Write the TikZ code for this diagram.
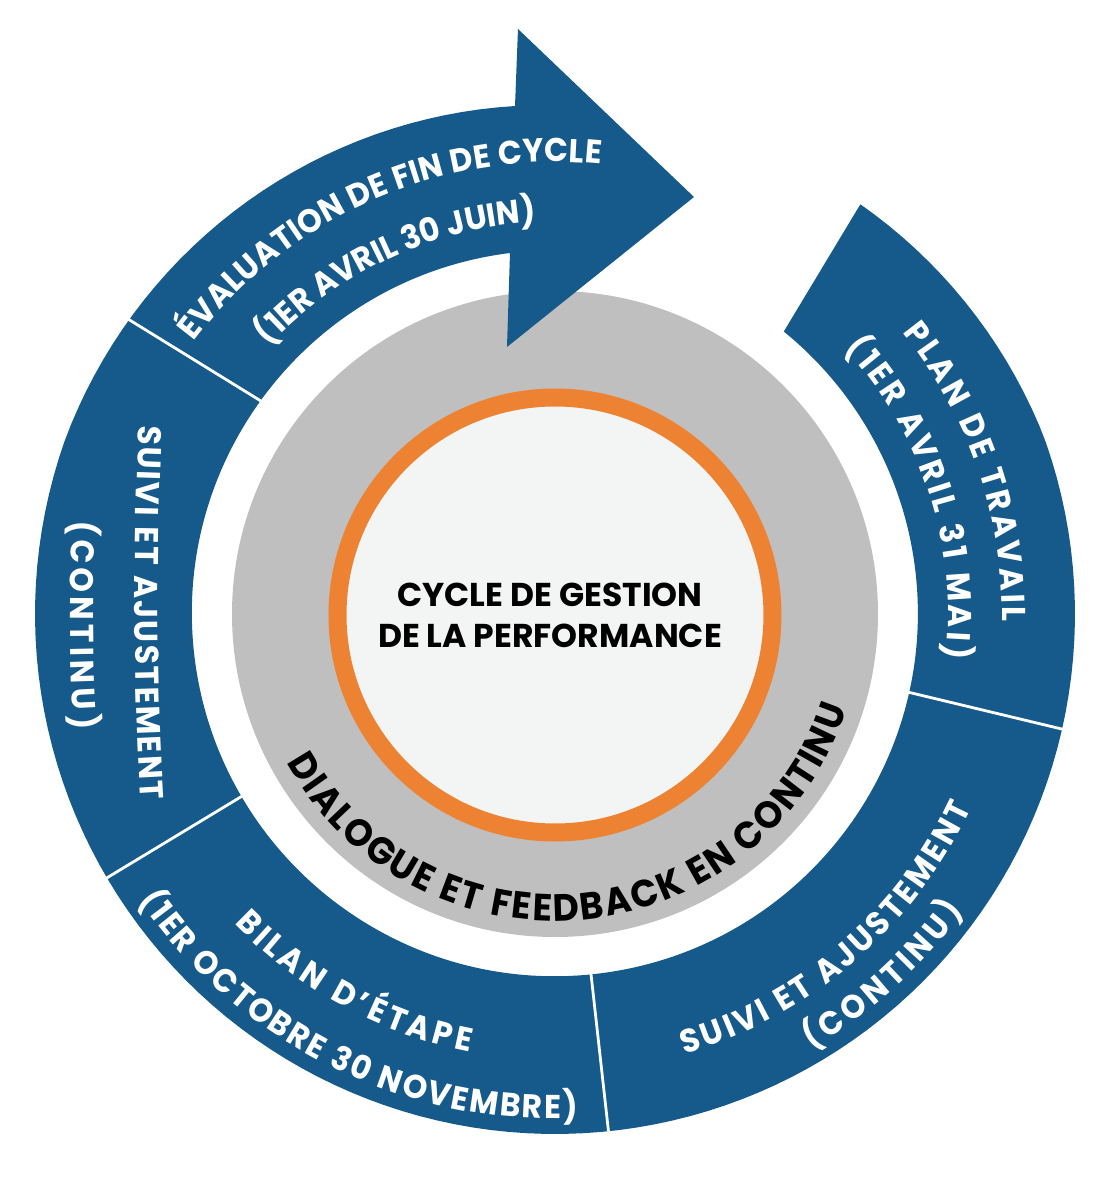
\documentclass[tikz,border=0pt]{standalone}
\usepackage{fontspec}
\setmainfont{Poppins}
\newfontfamily\ringfamily{Poppins}
\newfontfamily\narrowfamily{Poppins}[FakeStretch=0.95]
\usetikzlibrary{decorations.text}
\definecolor{ringblue}{RGB}{21,90,138}
\definecolor{discgray}{RGB}{191,191,191}
\definecolor{ringorange}{RGB}{237,131,50}
\definecolor{corefill}{RGB}{243,244,244}
\newcommand\ringtext{\narrowfamily\bfseries\fontsize{33}{33}\selectfont\color{white}}
\newcommand\dialtext{\narrowfamily\bfseries\fontsize{38}{38}\selectfont\color{black}}
\tikzset{
  ringlabel/.style={decorate, decoration={text along path, text align={fit to path}, text={|\ringtext|#1}}},
  diallabel/.style={decorate, decoration={text along path, text align={fit to path}, text={|\dialtext|#1}}},
  sepline/.style={white, line width=2.8pt, shorten <=-4pt, shorten >=-4pt},
  titletext/.style={font=\ringfamily\bfseries\fontsize{33}{33}\selectfont, text=black, inner sep=0pt, anchor=base},
}
\begin{document}
\begin{tikzpicture}[x=1pt,y=1pt,
  declare function={outr(\t)=520-9*max(0,(\t-20)/33.3)-10.4*max(0,(-200-\t)/65.5);}]
\useasboundingbox (-555,-586) rectangle (554,614);
% grey disc, orange ring, core
\fill[discgray] (0,0) circle[radius=323pt];
\fill[corefill] (0,-1) circle[radius=217.5pt];
\draw[ringorange, line width=18pt] (0,-1) circle[radius=217.5pt];
% blue band with arrow head
\fill[ringblue] plot[domain=53.3:-265.5, samples=160] ({outr(\x)*cos(\x)}, {outr(\x)*sin(\x)})
  -- (-37,585) -- (139,417) -- (-48,267) -- (-45,361)
  arc[start angle=97.1, end angle=410.9, radius=363pt] -- cycle;
% separators
\coordinate (s1o) at (-424.3,293.3); \coordinate (s1i) at (-293,212.3);
\coordinate (s2o) at (-448.3,-264);  \coordinate (s2i) at (-316,-184);
\coordinate (s3o) at (53,-513);      \coordinate (s3i) at (36,-360);
\coordinate (s4o) at (506.7,-115);   \coordinate (s4i) at (356.7,-79);
\draw[sepline] (s1o) -- (s1i);
\draw[sepline] (s2o) -- (s2i);
\draw[sepline] (s3o) -- (s3i);
\draw[sepline] (s4o) -- (s4i);
% ring labels
\path[ringlabel={ÉVALUATION DE FIN DE CYCLE}] (143:452pt) arc[start angle=143, end angle=84.2, radius=452pt];
\path[ringlabel={(1ER AVRIL 30 JUIN)}] (136.9:392pt) arc[start angle=136.9, end angle=92.9, radius=392pt];
\path[ringlabel={PLAN DE TRAVAIL}] (39:447pt) arc[start angle=39, end angle=-1, radius=447pt];
\path[ringlabel={(1ER AVRIL 31 MAI)}] (42.5:393pt) arc[start angle=42.5, end angle=-6.5, radius=393pt];
\path[ringlabel={SUIVI ET AJUSTEMENT}] (-73.6:459pt) arc[start angle=-73.6, end angle=-25, radius=459pt];
\path[ringlabel={(CONTINU)}] (-59.5:505pt) arc[start angle=-59.5, end angle=-36, radius=505pt];
\path[ringlabel={BILAN D’ÉTAPE}] (224:446pt) arc[start angle=224, end angle=259, radius=446pt];
\path[ringlabel={(1ER OCTOBRE 30 NOVEMBRE)}] (214.5:505pt) arc[start angle=214.5, end angle=272.6, radius=505pt];
\path[ringlabel={SUIVI ET AJUSTEMENT}] (-416,189) .. controls (-422,64) and (-422,-61) .. (-414,-186);
\path[ringlabel={(CONTINU)}] (-482,94) .. controls (-486,24) and (-486,-46) .. (-481,-116);
% inner label
\path[diallabel={DIALOGUE ET FEEDBACK EN CONTINU}] (209:307pt) arc[start angle=209, end angle=342, radius=307pt];
% title
\node[titletext] (title1) at (-5,7.4) {CYCLE DE GESTION};
\node[titletext] (title2) at (-5,-33.4) {DE LA PERFORMANCE};
\end{tikzpicture}
\end{document}
